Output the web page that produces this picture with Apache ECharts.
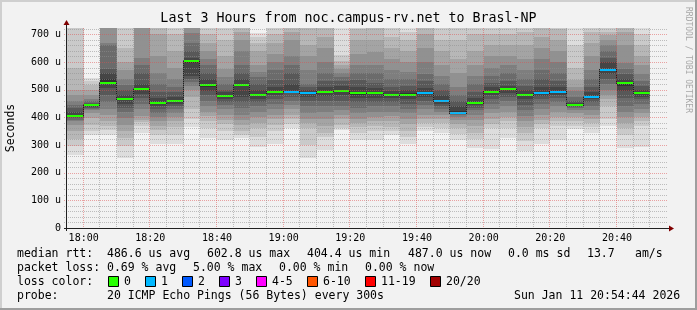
<!DOCTYPE html>
<html><head><meta charset="utf-8">
<script src="https://cdn.jsdelivr.net/npm/echarts@6/dist/echarts.min.js"></script>
<style>html,body{margin:0;padding:0;background:#f2f2f2}#c{width:697px;height:310px}</style>
</head><body><div id="c"></div>
<script>
// ---------------- data ----------------
const titleText = 'Last 3 Hours from noc.campus-rv.net to Brasl-NP';
const yAxisTitle = 'Seconds';
const watermark = 'RRDTOOL / TOBI OETIKER';
const xStart = '17:55', xEnd = '20:55';
const stepMin = 5;
const yMax = 723;
const yTicks = [0, 100, 200, 300, 400, 500, 600, 700];
const times = ['18:00','18:05','18:10','18:15','18:20','18:25','18:30','18:35','18:40','18:45',
  '18:50','18:55','19:00','19:05','19:10','19:15','19:20','19:25','19:30','19:35',
  '19:40','19:45','19:50','19:55','20:00','20:05','20:10','20:15','20:20','20:25',
  '20:30','20:35','20:40','20:45','20:50'];
const medianRtt = [404.4,443,525,465,501,453,460,602.8,516,476,
  518,482,493,493,489,493,496,487,487,480,
  482,487,460,417,453,493,501,482,489,493,
  443,472,570,523,487.0];
const lossCount = [0,0,0,0,0,0,0,0,0,0,
  0,0,0,1,1,0,0,0,0,0,
  0,1,1,1,0,0,0,0,1,1,
  0,1,1,0,0];
const smokePings = [
  [263,295,320,350,373,385,392,396,400,403,407,420,432,445,458,482,500,580,740,800],
  [337,350,374,398,415,425,430,435,439,442,444,448,452,460,468,480,500,518,530,542],
  [337,355,370,385,410,430,455,480,505,520,540,560,575,660,670,750,800,850,900,1000],
  [253,295,325,350,374,398,420,435,450,462,468,480,500,518,540,570,600,650,740,780],
  [343,370,383,392,405,430,450,470,485,498,505,520,560,590,615,750,780,800,850,900],
  [305,335,355,370,385,400,415,430,440,450,456,470,490,520,560,620,700,750,800,850],
  [305,337,365,385,400,415,430,440,450,457,463,475,490,510,540,580,640,700,760,800],
  [365,395,430,475,500,515,528,538,548,598,606,615,639,670,705,760,800,850,900,950],
  [325,360,385,405,420,440,460,480,495,510,520,540,560,590,610,640,670,700,740,800],
  [319,350,375,390,410,430,445,455,465,473,479,490,500,520,545,575,620,680,740,800],
  [325,338,350,374,392,410,435,455,475,512,522,540,560,590,640,680,710,750,800,850],
  [292,330,360,380,400,420,440,455,468,478,486,500,520,545,565,590,640,670,690,705],
  [305,350,374,395,410,430,450,465,480,490,496,510,535,570,600,630,670,700,740,790],
  [361,375,395,410,430,445,460,475,488,491,496,520,560,590,620,680,710,750,800,850],
  [253,300,360,378,395,415,440,460,475,485,492,500,510,520,570,620,660,740,780,820],
  [283,330,345,370,395,420,440,460,478,489,497,510,530,560,600,650,690,730,780,820],
  [355,362,374,395,410,425,440,460,480,490,500,515,530,545,560,575,590,605,625,760],
  [319,345,365,380,395,415,435,455,470,482,492,510,535,560,590,630,680,720,760,800],
  [319,350,370,385,400,420,440,455,470,484,490,505,525,560,590,635,680,730,770,820],
  [335,350,365,385,405,420,440,455,470,478,483,495,510,540,570,610,650,690,740,780],
  [304,330,350,375,395,415,430,450,465,478,487,500,515,540,565,600,640,680,710,760],
  [350,365,380,395,410,430,445,460,475,484,490,505,530,555,600,650,700,740,780,820],
  [343,360,380,395,410,420,430,440,450,457,463,480,500,520,550,590,640,680,740,800],
  [319,340,360,375,390,400,410,414,416,418,422,440,460,480,510,560,610,680,740,800],
  [289,320,345,370,390,410,425,435,445,451,456,470,490,520,550,590,640,700,740,780],
  [287,360,375,395,415,430,450,465,480,490,496,510,525,550,580,620,660,700,740,790],
  [325,360,385,400,420,440,460,475,488,498,504,515,530,560,590,620,660,700,740,790],
  [277,315,345,365,385,405,425,445,465,478,486,500,515,540,570,610,660,710,750,800],
  [305,360,375,390,410,430,450,465,478,486,492,510,540,570,610,650,690,730,770,820],
  [319,370,385,400,420,440,455,470,482,490,496,510,530,560,600,640,680,720,760,810],
  [359,370,385,400,415,425,432,437,440,442,445,452,460,475,495,510,535,580,660,740],
  [343,365,380,395,410,425,440,455,465,470,475,490,510,540,570,620,670,710,760,800],
  [370,395,440,465,480,500,520,540,555,566,575,600,615,640,663,680,699,710,740,800],
  [289,335,360,380,400,420,440,470,495,515,528,540,555,575,595,660,710,750,800,850],
  [292,370,385,400,415,430,450,465,475,483,490,500,515,530,555,590,620,660,700,760]
];
const lossLabels = ['0','1','2','3','4-5','6-10','11-19','20/20'];
const lossColors = ['#26ff00','#00b8ff','#0059ff','#7e00ff','#ff00ff','#ff5500','#ff0000','#a10000'];
const rttLabel = 'median rtt:';
const rttStats = ['486.6 us avg','602.8 us max','404.4 us min','487.0 us now','0.0 ms sd','13.7','am/s'];
const lossLabel = 'packet loss:';
const lossStats = ['0.69 % avg','5.00 % max','0.00 % min','0.00 % now'];
const lossColorLabel = 'loss color:';
const probeLabel = 'probe:';
const probeText = '20 ICMP Echo Pings (56 Bytes) every 300s';
const dateText = 'Sun Jan 11 20:54:44 2026';

// ---------------- layout / style ----------------
const mono = '"DejaVu Sans Mono", monospace';
const toMin = s => { const [h, m] = s.split(':').map(Number); return h * 60 + m; };
const fmtMin = v => String(Math.floor(v / 60)).padStart(2, '0') + ':' + String(v % 60).padStart(2, '0');
const X0 = toMin(xStart), X1 = toMin(xEnd);
function lossIdx(n) {
  if (n <= 3) return n;
  if (n <= 5) return 4;
  if (n <= 10) return 5;
  if (n <= 19) return 6;
  return 7;
}

const chart = echarts.init(document.getElementById('c'), null, {renderer: 'canvas'});

function smokeRender(params, api) {
  const i = api.value(2);
  const tEnd = api.value(0), tStart = tEnd - stepMin;
  const p = smokePings[i];
  const n = p.length, half = Math.floor(n / 2);
  const children = [];
  for (let k = 0; k < half; k++) {
    const a = api.coord([tStart, p[n - 1 - k]]);
    const b = api.coord([tEnd, p[k]]);
    const g = Math.round(190 / half * (half - (k + 1)) + 50);
    const x0 = Math.round(a[0]), x1 = Math.round(b[0]);
    const y0 = Math.round(a[1]), y1 = Math.round(b[1]);
    children.push({type: 'rect', shape: {x: x0, y: y0, width: x1 - x0, height: y1 - y0},
      style: {fill: 'rgb(' + g + ',' + g + ',' + g + ')'}});
  }
  return {type: 'group', children};
}

function medianRender(params, api) {
  const i = api.value(2);
  const tEnd = api.value(0), tStart = tEnd - stepMin;
  const a = api.coord([tStart, api.value(1)]);
  const b = api.coord([tEnd, api.value(1)]);
  const x0 = Math.round(a[0]), x1 = Math.round(b[0]);
  const y = Math.round(a[1]);
  const children = [];
  if (i > 0) {
    const py = Math.round(api.coord([tStart, medianRtt[i - 1]])[1]);
    children.push({type: 'rect', shape: {x: x0 - 1, y: Math.min(py, y) - 1, width: 1, height: Math.abs(py - y) + 2},
      style: {fill: '#202020'}});
  }
  children.push({type: 'rect', shape: {x: x0, y: y - 1, width: x1 - x0, height: 2},
    style: {fill: lossColors[lossIdx(lossCount[i])]}});
  return {type: 'group', children};
}

function gridRender(params, api) {
  const children = [];
  const minorC = 'rgba(143,143,143,0.55)', majorC = 'rgba(222,79,79,0.5)';
  const left = Math.round(api.coord([X0, 0])[0]);
  const right = Math.round(api.coord([X1, 0])[0]);
  const bottom = Math.round(api.coord([X0, 0])[1]);
  const top = Math.round(api.coord([X0, yMax])[1]);
  for (let v = 20; v < yMax; v += 20) {
    const y = Math.round(api.coord([X0, v])[1]) + 0.5;
    children.push({type: 'line', shape: {x1: left - 3, y1: y, x2: right + 1, y2: y},
      style: {stroke: v % 100 === 0 ? majorC : minorC, lineWidth: 1, lineDash: [1, 1]}});
  }
  for (let t = X0 + stepMin; t < X1; t += stepMin) {
    const x = Math.round(api.coord([t, 0])[0]) - 0.5;
    children.push({type: 'line', shape: {x1: x, y1: top, x2: x, y2: bottom + 2},
      style: {stroke: t % 20 === 0 ? majorC : minorC, lineWidth: 1, lineDash: [1, 1]}});
  }
  // axes
  const ax = left - 0.5, ay = bottom + 0.5;
  children.push({type: 'line', shape: {x1: left - 3, y1: ay, x2: right + 2, y2: ay}, style: {stroke: '#212121', lineWidth: 1}});
  children.push({type: 'line', shape: {x1: ax, y1: bottom + 3, x2: ax, y2: top - 4}, style: {stroke: '#212121', lineWidth: 1}});
  children.push({type: 'polygon', shape: {points: [[ax - 3, top - 3], [ax + 3, top - 3], [ax, top - 8]]}, style: {fill: '#800000'}});
  children.push({type: 'polygon', shape: {points: [[right + 2, ay - 3], [right + 2, ay + 3], [right + 7, ay]]}, style: {fill: '#800000'}});
  return {type: 'group', children};
}

const seriesData = times.map((t, i) => [toMin(t), medianRtt[i], i]);

// graphic texts
const G = [];
function text(x, y, s, size, extra) {
  const el = {type: 'text', x: x, y: y, silent: true, z: 100,
    style: Object.assign({text: s, fontFamily: mono, fontSize: size, fill: '#000', align: 'left', verticalAlign: 'middle'}, extra && extra.style || {})};
  if (extra && extra.rotation !== undefined) el.rotation = extra.rotation;
  return el;
}
G.push({type: 'rect', shape: {x: 0, y: 0, width: 697, height: 2}, style: {fill: '#cfcfcf'}, silent: true});
G.push({type: 'rect', shape: {x: 0, y: 0, width: 2, height: 310}, style: {fill: '#cfcfcf'}, silent: true});
G.push({type: 'rect', shape: {x: 0, y: 308, width: 697, height: 2}, style: {fill: '#9e9e9e'}, silent: true});
G.push({type: 'rect', shape: {x: 695, y: 0, width: 2, height: 310}, style: {fill: '#9e9e9e'}, silent: true});
G.push(text(348.5, 19, titleText, 13.3, {style: {align: 'center'}}));
G.push(text(11, 128, yAxisTitle, 11.5, {rotation: Math.PI / 2, style: {align: 'center'}}));
G.push(text(688, 60, watermark, 8, {rotation: -Math.PI / 2, style: {align: 'center', fill: '#a8a8a8'}}));
const legX = 17, valX = 107;
const rowY = [254, 268, 282, 296];
G.push(text(legX, rowY[0], rttLabel, 11.5));
const rttX = [107, 207, 307, 408, 508, 587, 635];
rttStats.forEach((s, i) => G.push(text(rttX[i], rowY[0], s, 11.5)));
G.push(text(legX, rowY[1], lossLabel, 11.5));
const lossX = [107, 193, 279, 365];
lossStats.forEach((s, i) => G.push(text(lossX[i], rowY[1], s, 11.5)));
G.push(text(legX, rowY[2], lossColorLabel, 11.5));
const boxX = [108.5, 145.5, 182.5, 219.5, 256.5, 307.5, 365.5, 430.5];
lossLabels.forEach((s, i) => {
  G.push({type: 'rect', silent: true, z: 100, shape: {x: boxX[i], y: rowY[2] - 5.5, width: 10, height: 10},
    style: {fill: lossColors[i], stroke: '#000', lineWidth: 1}});
  G.push(text(boxX[i] + 15.5, rowY[2], s, 11.5));
});
G.push(text(legX, rowY[3], probeLabel, 11.5));
G.push(text(valX, rowY[3], probeText, 11.5));
G.push(text(514, rowY[3], dateText, 11.5));

const option = {
  animation: false,
  backgroundColor: '#f2f2f2',
  grid: {left: 67, top: 28, width: 600, height: 200, containLabel: false, outerBoundsMode: 'none'},
  xAxis: {
    type: 'value', min: X0, max: X1, interval: stepMin,
    axisLine: {show: false}, axisTick: {show: false}, splitLine: {show: false},
    axisLabel: {interval: 0, fontFamily: mono, fontSize: 10, color: '#000', margin: 5,
      formatter: v => (v % 20 === 0 ? fmtMin(v) : '')}
  },
  yAxis: {
    type: 'value', min: 0, max: yMax, interval: 100,
    axisLine: {show: false}, axisTick: {show: false}, splitLine: {show: false},
    axisLabel: {fontFamily: mono, fontSize: 10, color: '#000', margin: 6,
      formatter: v => (yTicks.indexOf(v) < 0 ? '' : (v === 0 ? '0' : v + ' u'))}
  },
  graphic: G,
  series: [
    {type: 'custom', name: 'smoke', z: 2, clip: true, silent: true, data: seriesData,
      encode: {x: 0, y: 1}, renderItem: smokeRender},
    {type: 'custom', name: 'median', z: 3, clip: true, silent: true, data: seriesData,
      encode: {x: 0, y: 1}, renderItem: medianRender},
    {type: 'custom', name: 'grid', z: 4, clip: false, silent: true, data: [[X0, 0, 0]],
      encode: {x: 0, y: 1}, renderItem: gridRender}
  ]
};
chart.setOption(option);
</script>
</body></html>
